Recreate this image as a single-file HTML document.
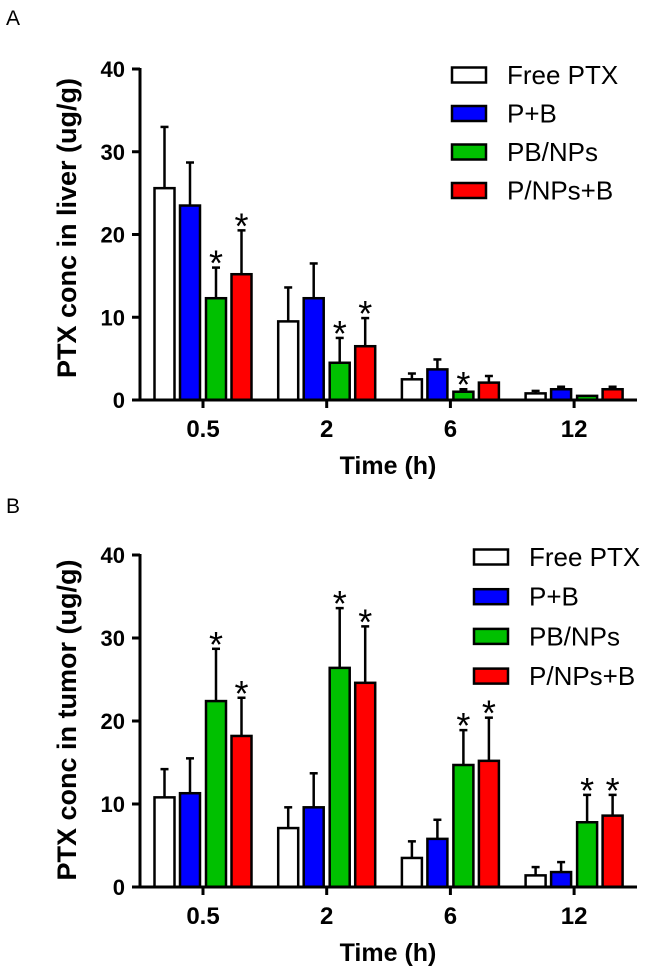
<!DOCTYPE html>
<html><head><meta charset="utf-8">
<style>
html,body{margin:0;padding:0;background:#fff;}
svg{display:block;font-family:"Liberation Sans",Arial,sans-serif;}
</style></head>
<body>
<svg id="chart" width="650" height="976" viewBox="0 0 650 976" xmlns="http://www.w3.org/2000/svg">
<text x="6" y="25" font-size="21">A</text>
<text x="6" y="513" font-size="21">B</text>
</svg>
<script>
const categories = ["0.5","2","6","12"];
const seriesNames = ["Free PTX","P+B","PB/NPs","P/NPs+B"];
const seriesColors = ["#ffffff","#0000ff","#00c000","#ff0000"];
const yTicks = [0,10,20,30,40];
// Panel A (liver)
const liverMean = [[25.6,9.5,2.5,0.8],[23.5,12.3,3.7,1.3],[12.3,4.5,1.0,0.5],[15.2,6.5,2.1,1.3]];
const liverErrTop = [[33.0,13.6,3.2,1.1],[28.7,16.5,4.9,1.6],[16.0,7.5,1.3,0.5],[20.5,9.9,2.9,1.6]];
const liverStar = [[0,0,0,0],[0,0,0,0],[1,1,1,0],[1,1,0,0]];
// Panel B (tumor)
const tumorMean = [[10.8,7.1,3.5,1.4],[11.3,9.6,5.8,1.8],[22.4,26.4,14.7,7.8],[18.2,24.6,15.2,8.6]];
const tumorErrTop = [[14.2,9.6,5.5,2.4],[15.5,13.7,8.1,3.0],[28.7,33.6,18.9,11.1],[22.8,31.4,20.4,11.1]];
const tumorStar = [[0,0,0,0],[0,0,0,0],[1,1,1,1],[1,1,1,1]];

const NS="http://www.w3.org/2000/svg";
const svg=document.getElementById('chart');
function mk(tag,attrs,parent){const e=document.createElementNS(NS,tag);for(const k in attrs)e.setAttribute(k,attrs[k]);(parent||svg).appendChild(e);return e;}

function panel(cfg){
  const g=mk('g',{});
  
  
  const x0=140,x1=637,yBot=cfg.yBot,yTop=cfg.yTop;
  const yScale=v=>yBot-(v/40)*(yBot-yTop);
  const xCenter=i=>203+i*123.7;
  const off=[-38.5,-13,13,38.5], bw=20;
  for(let s=0;s<4;s++){
    for(let c=0;c<4;c++){
      const cx=xCenter(c)+off[s];
      const m=cfg.mean[s][c], e=cfg.err[s][c];
      const yt=yScale(m), ye=yScale(e);
      if(e>m){
        const ln=mk('line',{x1:cx,x2:cx,y1:yt,y2:ye,stroke:'#000','stroke-width':2.5},g);
        
        
        const cap=mk('line',{x1:cx-4,x2:cx+4,y1:ye,y2:ye,stroke:'#000','stroke-width':2.5},g);
        
        
      }
      const r=mk('rect',{x:cx-bw/2,y:yt,width:bw,height:Math.max(yBot-yt,0.5),fill:seriesColors[s],stroke:'#000','stroke-width':2.5},g);
      
      
      if(cfg.star[s][c]){
        const t=mk('text',{x:cx,y:ye+8,'font-size':36,'text-anchor':'middle'},g);
        t.textContent='*';
        
        
      }
    }
  }
  const ya=mk('line',{x1:x0,x2:x0,y1:yTop-1,y2:yBot+1.5,stroke:'#000','stroke-width':3},g);
  
  
  const xa=mk('line',{x1:x0-1.5,x2:x1,y1:yBot,y2:yBot,stroke:'#000','stroke-width':3},g);
  
  
  yTicks.forEach(v=>{
    const y=yScale(v);
    const tk=mk('line',{x1:x0-8,x2:x0,y1:y,y2:y,stroke:'#000','stroke-width':3},g);
    
    
    const t=mk('text',{x:x0-15,y:y+8,'font-size':22,'font-weight':'bold','text-anchor':'end'},g);
    t.textContent=v;
    
    
  });
  categories.forEach((c,i)=>{
    const x=xCenter(i);
    const tk=mk('line',{x1:x,x2:x,y1:yBot,y2:yBot+8,stroke:'#000','stroke-width':3},g);
    
    
    const t=mk('text',{x:x,y:yBot+37,'font-size':24,'font-weight':'bold','text-anchor':'middle'},g);
    t.textContent=c;
    
    
  });
  const xt=mk('text',{x:388,y:yBot+74,'font-size':25,'font-weight':'bold','text-anchor':'middle'},g);
  xt.textContent='Time (h)';
  
  
  const cy=cfg.titleY;
  const yt=mk('text',{x:0,y:0,'font-size':27,'font-weight':'bold','text-anchor':'middle',transform:'translate(76,'+cy+') rotate(-90)'},g);
  yt.textContent=cfg.ytitle;
  
  
  seriesNames.forEach((n,i)=>{
    const y=cfg.legY+i*cfg.legStep;
    const r=mk('rect',{x:cfg.legX,y:y-7.5,width:34,height:15,fill:seriesColors[i],stroke:'#000','stroke-width':2.5},g);
    
    
    const t=mk('text',{x:cfg.legX+55,y:y+9,'font-size':26},g);
    t.textContent=n;
    
    
  });
}
panel({name:'liver-panel',key:'liver',yTop:69,yBot:400,mean:liverMean,err:liverErrTop,star:liverStar,ytitle:'PTX conc in liver (ug/g)',legX:452,legY:75,legStep:38.5,titleY:228});
panel({name:'tumor-panel',key:'tumor',yTop:555,yBot:887,mean:tumorMean,err:tumorErrTop,star:tumorStar,ytitle:'PTX conc in tumor (ug/g)',legX:474,legY:557,legStep:39.7,titleY:720});
</script>
</body></html>
